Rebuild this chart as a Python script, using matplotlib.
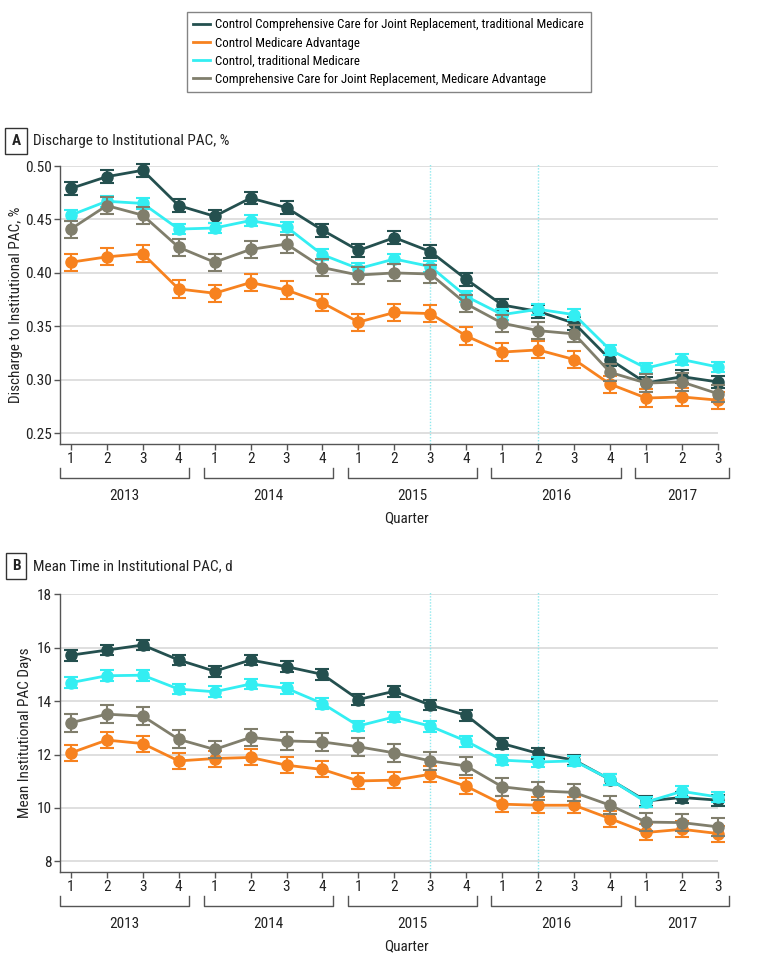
import matplotlib
matplotlib.use("Agg")
import matplotlib.pyplot as plt
from matplotlib import font_manager
from matplotlib.lines import Line2D

# ---- data ----
quarters = ["1", "2", "3", "4"] * 4 + ["1", "2", "3"]
years = ["2013", "2014", "2015", "2016", "2017"]
year_lengths = [4, 4, 4, 4, 3]
policy_marks = [10, 13]  # 2015 Q3, 2016 Q2

labels = [
    "Control Comprehensive Care for Joint Replacement, traditional Medicare",
    "Control Medicare Advantage",
    "Control, traditional Medicare",
    "Comprehensive Care for Joint Replacement, Medicare Advantage",
]
colors = ["#24504f", "#f7821f", "#33eef2", "#807e6c"]

# panel A: discharge to institutional PAC (share)
ccjr_tm_a = [0.479, 0.490, 0.496, 0.463, 0.453, 0.470, 0.461, 0.440, 0.421, 0.433,
             0.420, 0.394, 0.370, 0.364, 0.353, 0.319, 0.297, 0.303, 0.298]
ctrl_ma_a = [0.410, 0.415, 0.418, 0.385, 0.381, 0.391, 0.384, 0.372, 0.354, 0.363,
             0.362, 0.341, 0.326, 0.328, 0.319, 0.296, 0.283, 0.284, 0.281]
ctrl_tm_a = [0.454, 0.467, 0.465, 0.441, 0.442, 0.449, 0.443, 0.417, 0.404, 0.413,
             0.406, 0.378, 0.361, 0.366, 0.361, 0.328, 0.311, 0.319, 0.312]
ccjr_ma_a = [0.441, 0.463, 0.454, 0.424, 0.410, 0.422, 0.427, 0.405, 0.398, 0.400,
             0.399, 0.371, 0.353, 0.346, 0.343, 0.307, 0.297, 0.298, 0.287]
err_a = [0.006, 0.008, 0.005, 0.008]

# panel B: mean days in institutional PAC
ccjr_tm_b = [15.72, 15.91, 16.10, 15.54, 15.12, 15.54, 15.29, 15.00, 14.06, 14.37,
             13.85, 13.47, 12.41, 12.04, 11.79, 11.06, 10.26, 10.39, 10.29]
ctrl_ma_b = [12.06, 12.54, 12.41, 11.76, 11.85, 11.89, 11.60, 11.44, 11.01, 11.04,
             11.26, 10.81, 10.14, 10.10, 10.10, 9.60, 9.08, 9.20, 9.04]
ctrl_tm_b = [14.69, 14.95, 14.97, 14.45, 14.35, 14.64, 14.48, 13.91, 13.07, 13.41,
             13.06, 12.50, 11.79, 11.72, 11.76, 11.07, 10.22, 10.62, 10.41]
ccjr_ma_b = [13.19, 13.51, 13.44, 12.57, 12.19, 12.64, 12.51, 12.47, 12.29, 12.06,
             11.76, 11.57, 10.79, 10.64, 10.58, 10.10, 9.47, 9.45, 9.29]
err_b = [0.2, 0.3, 0.2, 0.33]

# pick a narrow font if one is around
_names = {f.name for f in font_manager.fontManager.ttflist}
font, scale = "Lato", 0.88
for fam in ["Liberation Sans Narrow", "Roboto Condensed", "Open Sans Condensed"]:
    if fam in _names:
        font, scale = fam, 1.0
        break
plt.rcParams["font.family"] = [font, "DejaVu Sans"]
fs_tick = 11 * scale
fs_title = 11 * scale
fs_leg = 9.3 * scale

AXIS_C = "#555555"
GRID_C = "#d9d9d9"
TEXT_C = "#222222"

fig = plt.figure(figsize=(7.8, 9.64), dpi=100)
W, H = 780, 964


def px_box(left, top, right, bottom):
    return [left / W, 1 - bottom / H, (right - left) / W, (bottom - top) / H]


def add_brackets(ax):
    # year brackets and labels under the quarter ticks (offsets in pixels)
    tr = ax.get_xaxis_transform()
    ah = ax.get_window_extent().height
    start = 0
    for yr, n in zip(years, year_lengths):
        x0, x1 = start - 0.3, start + n - 1 + 0.3
        y_top, y_bot = -24 / ah, -34 / ah
        ax.plot([x0, x0, x1, x1], [y_top, y_bot, y_bot, y_top], transform=tr,
                color=AXIS_C, lw=1, clip_on=False)
        ax.text((x0 + x1) / 2, -52 / ah, yr, transform=tr, ha="center",
                va="center", fontsize=fs_tick, color=TEXT_C)
        start += n
    ax.text(0.527, -74 / ah, "Quarter", transform=ax.transAxes, ha="center",
            va="center", fontsize=fs_tick, color=TEXT_C)


def add_header(y_px, letter, title):
    fig.text(16 / W, 1 - y_px / H, letter, ha="center", va="center",
             fontsize=fs_title, fontweight="bold", color=TEXT_C,
             bbox=dict(boxstyle="square,pad=0.4", fc="white", ec="#333333", lw=1))
    fig.text(33 / W, 1 - y_px / H, title, ha="left", va="center",
             fontsize=fs_title, color=TEXT_C)


ax_a = fig.add_axes(px_box(60, 166, 718, 444))
ax_b = fig.add_axes(px_box(60, 594.3, 718, 872))

for ax, series, errs, ylim, yticks, fmt in [
    (ax_a, [ccjr_tm_a, ctrl_ma_a, ctrl_tm_a, ccjr_ma_a], err_a, (0.24, 0.50),
     [0.25, 0.30, 0.35, 0.40, 0.45, 0.50], "{:.2f}"),
    (ax_b, [ccjr_tm_b, ctrl_ma_b, ctrl_tm_b, ccjr_ma_b], err_b, (7.6, 18),
     [8, 10, 12, 14, 16, 18], "{:.0f}"),
]:
    x = list(range(len(quarters)))
    for k, (vals, e, c) in enumerate(zip(series, errs, colors)):
        ax.errorbar(x, vals, yerr=e, color=c, lw=2, marker="o", ms=8,
                    capsize=5, capthick=1.5, elinewidth=1.5, zorder=3 + k,
                    clip_on=False)
    ax.set_xlim(-0.3, len(quarters) - 1)
    ax.set_ylim(*ylim)
    ax.set_yticks(yticks)
    ax.set_yticklabels([fmt.format(v) for v in yticks], fontsize=fs_tick)
    ax.set_xticks(x)
    ax.set_xticklabels(quarters, fontsize=fs_tick)
    ax.grid(axis="y", color=GRID_C, lw=1.2, zorder=0)
    ax.set_axisbelow(True)
    for s in ("top", "right"):
        ax.spines[s].set_visible(False)
    for s in ("left", "bottom"):
        ax.spines[s].set_color(AXIS_C)
        ax.spines[s].set_linewidth(1)
    ax.tick_params(axis="both", colors=AXIS_C, labelcolor=TEXT_C,
                   length=4, width=1, direction="out", pad=2)
    for m in policy_marks:
        ax.axvline(m, ymin=0, ymax=1.012, color="#8fe9ee", lw=1,
                   ls=(0, (1, 1.2)), zorder=1, clip_on=False)
    add_brackets(ax)

ax_a.set_ylabel("Discharge to Institutional PAC, %", fontsize=fs_tick,
                color=TEXT_C, labelpad=1)
ax_b.set_ylabel("Mean Institutional PAC Days", fontsize=fs_tick,
                color=TEXT_C, labelpad=3)

add_header(141, "A", "Discharge to Institutional PAC, %")
add_header(566, "B", "Mean Time in Institutional PAC, d")

handles = [Line2D([], [], color=c, lw=2) for c in colors]
leg = fig.legend(handles, labels, loc="upper left",
                 bbox_to_anchor=(187 / W, 1 - 12 / H), borderaxespad=0,
                 fontsize=fs_leg, handlelength=1.3, handletextpad=0.4,
                 labelspacing=0.4, borderpad=0.5, fancybox=False,
                 frameon=True)
leg.get_frame().set_edgecolor("#666666")
leg.get_frame().set_linewidth(1)

fig.savefig("out.png", dpi=100)
